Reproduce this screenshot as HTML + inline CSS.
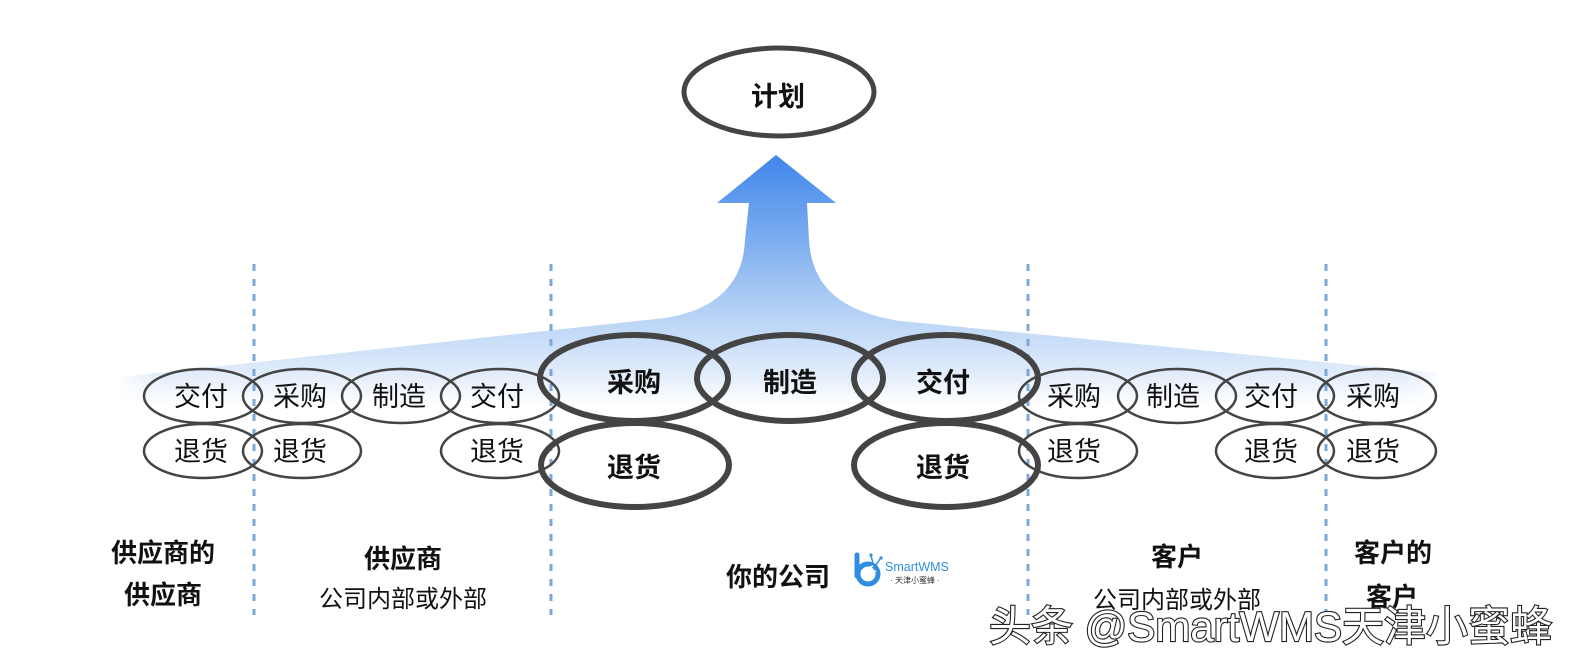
<!DOCTYPE html>
<html><head><meta charset="utf-8">
<style>
html,body{margin:0;padding:0;background:#fff;}
svg{display:block;}
text{font-family:"Liberation Sans","Noto Sans CJK SC",sans-serif;}
</style></head>
<body>
<svg width="1575" height="666" viewBox="0 0 1575 666" xmlns="http://www.w3.org/2000/svg">
<defs>
<linearGradient id="g" gradientUnits="userSpaceOnUse" x1="0" y1="155" x2="0" y2="405">
<stop offset="0" stop-color="#3f86ea"/>
<stop offset="0.35" stop-color="#7eaef0"/>
<stop offset="0.62" stop-color="#b3d0f5"/>
<stop offset="0.88" stop-color="#e2edfb"/>
<stop offset="1" stop-color="#ffffff"/>
</linearGradient>
<linearGradient id="hfade" x1="0" y1="0" x2="1" y2="0">
<stop offset="0" stop-color="#fff" stop-opacity="1"/>
<stop offset="0.03" stop-color="#fff" stop-opacity="0"/>
<stop offset="0.97" stop-color="#fff" stop-opacity="0"/>
<stop offset="1" stop-color="#fff" stop-opacity="1"/>
</linearGradient>
</defs>

<!-- big arrow -->
<path d="M776,155 L836,203 L807,203 L809,240 C812,290 845,312 900,321 L1437,373 L1437,405 L120,405 L120,377 L665,318 C715,310 743,285 745,240 L749,203 L717,203 Z" fill="url(#g)"/>
<rect x="115" y="330" width="1330" height="80" fill="url(#hfade)"/>

<!-- dashed lines -->
<g stroke="#7ba7d9" stroke-width="3" stroke-dasharray="7,8">
<line x1="254" y1="264" x2="254" y2="615"/>
<line x1="551" y1="264" x2="551" y2="615"/>
<line x1="1028" y1="264" x2="1028" y2="615"/>
<line x1="1326" y1="264" x2="1326" y2="615"/>
</g>

<!-- plan ellipse -->
<ellipse cx="779" cy="92" rx="95" ry="44" fill="#fff" stroke="#444" stroke-width="5"/>
<text x="778" y="106" text-anchor="middle" font-size="27" font-weight="bold" fill="#111">计划</text>

<!-- small ellipses -->
<g fill="none" stroke="#444" stroke-width="2.5">
<ellipse cx="203" cy="396" rx="59" ry="27"/>
<ellipse cx="302" cy="396" rx="59" ry="27"/>
<ellipse cx="401" cy="396" rx="59" ry="27"/>
<ellipse cx="500" cy="396" rx="59" ry="27"/>
<ellipse cx="203" cy="451" rx="59" ry="27"/>
<ellipse cx="302" cy="451" rx="59" ry="27"/>
<ellipse cx="500" cy="451" rx="59" ry="27"/>
<ellipse cx="1078" cy="396" rx="59" ry="27"/>
<ellipse cx="1177" cy="396" rx="59" ry="27"/>
<ellipse cx="1275" cy="396" rx="59" ry="27"/>
<ellipse cx="1377" cy="396" rx="59" ry="27"/>
<ellipse cx="1078" cy="451" rx="59" ry="27"/>
<ellipse cx="1275" cy="451" rx="59" ry="27"/>
<ellipse cx="1377" cy="451" rx="59" ry="27"/>
</g>
<g font-size="27" fill="#111" text-anchor="middle">
<text x="201" y="406">交付</text>
<text x="300" y="406">采购</text>
<text x="399" y="406">制造</text>
<text x="497" y="406">交付</text>
<text x="201" y="461">退货</text>
<text x="300" y="461">退货</text>
<text x="497" y="461">退货</text>
<text x="1074" y="406">采购</text>
<text x="1173" y="406">制造</text>
<text x="1271" y="406">交付</text>
<text x="1373" y="406">采购</text>
<text x="1074" y="461">退货</text>
<text x="1271" y="461">退货</text>
<text x="1373" y="461">退货</text>
</g>

<!-- big ellipses -->
<g fill="none" stroke="#444" stroke-width="6">
<ellipse cx="634" cy="378" rx="94" ry="43"/>
<ellipse cx="790" cy="378" rx="93" ry="43"/>
<ellipse cx="946" cy="378" rx="92" ry="43"/>
<ellipse cx="635" cy="465" rx="94" ry="42"/>
<ellipse cx="946" cy="465" rx="92" ry="42"/>
</g>
<g font-size="27" font-weight="bold" fill="#111" text-anchor="middle">
<text x="634" y="392">采购</text>
<text x="790" y="392">制造</text>
<text x="943" y="392">交付</text>
<text x="634" y="477">退货</text>
<text x="943" y="477">退货</text>
</g>

<!-- bottom labels -->
<g font-weight="bold" fill="#111" text-anchor="middle" font-size="26">
<text x="163" y="562">供应商的</text>
<text x="163" y="604">供应商</text>
<text x="403" y="568">供应商</text>
<text x="778" y="586">你的公司</text>
<text x="1177" y="566">客户</text>
<text x="1393" y="562">客户的</text>
<text x="1392" y="606">客户</text>
</g>
<g fill="#111" text-anchor="middle" font-size="24">
<text x="403" y="607">公司内部或外部</text>
<text x="1177" y="608">公司内部或外部</text>
</g>

<!-- logo -->
<g>
<circle cx="868" cy="574" r="10" fill="none" stroke="#2f8ee0" stroke-width="5"/>
<line x1="857" y1="555" x2="857" y2="576" stroke="#2f8ee0" stroke-width="5" stroke-linecap="round"/>
<line x1="861" y1="571" x2="873" y2="566" stroke="#fff" stroke-width="1.5"/>
<line x1="862" y1="577" x2="876" y2="571" stroke="#fff" stroke-width="1.5"/>
<line x1="873" y1="563" x2="871" y2="556" stroke="#2f8ee0" stroke-width="1.5"/>
<circle cx="871" cy="555" r="1.6" fill="#2f8ee0"/>
<line x1="876" y1="565" x2="880" y2="559" stroke="#2f8ee0" stroke-width="1.5"/>
<circle cx="881" cy="558" r="1.6" fill="#2f8ee0"/>
<text x="885" y="571" font-size="12.5" fill="#2f8ee0">SmartWMS</text>
<text x="915" y="583" font-size="8" fill="#333" text-anchor="middle">·  天津小蜜蜂  ·</text>
</g>

<!-- watermark -->
<text x="989" y="641" font-size="42" fill="#fff" style="paint-order:stroke" stroke="#222" stroke-width="2.2">头条 @SmartWMS天津小蜜蜂</text>
</svg>
</body></html>
